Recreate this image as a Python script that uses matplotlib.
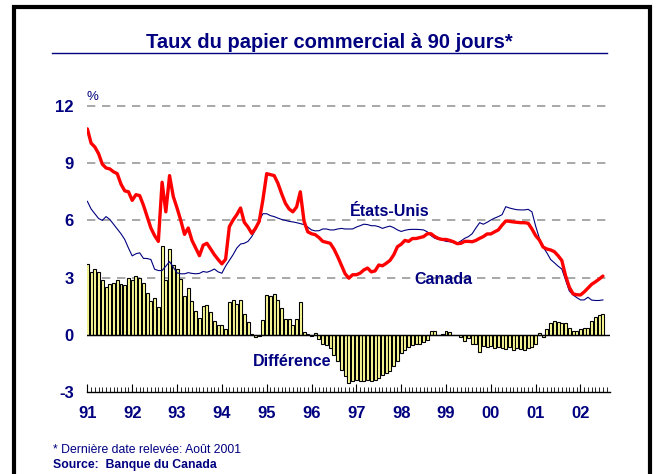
import matplotlib
matplotlib.use("Agg")
import matplotlib.pyplot as plt
import numpy as np
from matplotlib.lines import Line2D
from matplotlib.patches import Rectangle

plt.rcParams['font.family'] = ['Liberation Sans', 'DejaVu Sans']

# monthly data, Jan 1991 .. Jul 2002
canada = [
    10.8, 10.05, 9.85, 9.5, 8.95, 8.75, 8.7, 8.55, 8.45, 7.9, 7.55, 7.5,
    7.05, 7.35, 7.3, 6.8, 6.2, 5.6, 5.2, 4.9, 8.0, 6.45, 8.35, 7.25,
    6.65, 6.0, 5.27, 5.6, 4.95, 4.55, 4.15, 4.7, 4.8, 4.5, 4.2, 3.95,
    3.72, 3.96, 5.67, 6.02, 6.3, 6.65, 5.9, 5.65, 5.32, 5.58, 5.95, 7.1,
    8.45, 8.4, 8.35, 7.95, 7.4, 6.9, 6.6, 6.45, 6.7, 7.5, 5.95, 5.4,
    5.3, 5.25, 5.1, 4.9, 4.85, 4.8, 4.5, 4.1, 3.65, 3.2, 2.97, 3.15,
    3.15, 3.23, 3.4, 3.5, 3.3, 3.35, 3.66, 3.62, 3.75, 3.9, 4.19, 4.62,
    4.75, 4.95, 4.9, 5.05, 5.05, 5.1, 5.15, 5.3, 5.3, 5.15, 5.05, 5.0,
    5.0, 4.95, 4.88, 4.78, 4.8, 4.9, 4.9, 4.88, 4.95, 5.06, 5.15, 5.29,
    5.29, 5.4, 5.5, 5.75, 5.97, 5.95, 5.92, 5.9, 5.88, 5.88, 5.85, 5.55,
    5.2, 4.97, 4.6, 4.5, 4.45, 4.36, 4.15, 3.9, 3.1, 2.5, 2.15, 2.1,
    2.09, 2.25, 2.45, 2.65, 2.78, 2.92, 3.08,
]
etats_unis = [
    7.0, 6.6, 6.35, 6.1, 6.0, 6.2, 6.05, 5.8, 5.55, 5.3, 5.0, 4.55,
    4.14, 4.25, 4.3, 4.01, 4.0, 3.95, 3.44, 3.37, 3.37, 3.6, 3.84, 3.55,
    3.25, 3.2, 3.2, 3.26, 3.22, 3.2, 3.22, 3.32, 3.28, 3.35, 3.45, 3.3,
    3.23, 3.6, 3.9, 4.2, 4.55, 4.76, 4.8, 4.9, 5.15, 5.5, 6.0, 6.35,
    6.35, 6.25, 6.2, 6.12, 6.05, 6.0, 5.95, 5.92, 5.88, 5.83, 5.78, 5.65,
    5.5, 5.45, 5.46, 5.55, 5.55, 5.5, 5.5, 5.55, 5.58, 5.55, 5.55, 5.55,
    5.65, 5.72, 5.8, 5.78, 5.72, 5.72, 5.67, 5.58, 5.65, 5.7, 5.62, 5.5,
    5.42, 5.48, 5.52, 5.53, 5.53, 5.52, 5.5, 5.4, 5.2, 5.06, 5.0, 4.97,
    4.9, 4.88, 4.83, 4.8, 4.92, 5.06, 5.15, 5.3, 5.6, 5.88, 5.8, 5.9,
    6.02, 6.12, 6.2, 6.3, 6.72, 6.65, 6.6, 6.56, 6.55, 6.55, 6.58, 6.45,
    5.7, 5.06, 4.6, 4.3, 3.95, 3.78, 3.6, 3.45, 2.88, 2.3, 2.09, 1.95,
    1.83, 1.83, 1.97, 1.82, 1.8, 1.8, 1.83,
]
difference = [
    3.72, 3.3, 3.44, 3.3, 2.9, 2.5, 2.67, 2.74, 2.88, 2.64, 2.6, 2.97,
    2.86, 3.09, 3.0, 2.74, 2.18, 1.76, 1.94, 1.45, 4.66, 2.9, 4.49, 3.66,
    3.44, 2.93, 2.02, 2.46, 1.75, 1.27, 0.89, 1.5, 1.54, 1.17, 0.72, 0.52,
    0.54, 0.31, 1.7, 1.8, 1.62, 1.85, 1.1, 0.68, 0.04, -0.13, -0.08, 0.8,
    2.1, 2.06, 2.16, 1.8, 1.42, 0.85, 0.85, 0.5, 0.85, 1.7, 0.15, 0.05,
    -0.05, 0.1, -0.2, -0.5, -0.55, -0.7, -1.05, -1.35, -1.83, -2.18, -2.55, -2.44,
    -2.36, -2.44, -2.4, -2.36, -2.44, -2.36, -2.27, -2.1, -2.0, -1.92, -1.66, -1.4,
    -0.96, -0.79, -0.66, -0.56, -0.49, -0.49, -0.38, -0.26, 0.18, 0.18, 0.0, 0.02,
    0.18, 0.15, 0.0, -0.03, -0.12, -0.3, -0.18, -0.48, -0.48, -0.88, -0.6, -0.65,
    -0.6, -0.7, -0.66, -0.7, -0.73, -0.66, -0.79, -0.7, -0.73, -0.79, -0.7, -0.66,
    -0.5, 0.1, -0.1, 0.3, 0.6, 0.75, 0.68, 0.62, 0.6, 0.38, 0.2, 0.2,
    0.3, 0.35, 0.38, 0.7, 0.92, 1.05, 1.1,
]
year_labels = ['91', '92', '93', '94', '95', '96', '97', '98', '99', '00', '01', '02']
y_ticks = [-3, 0, 3, 6, 9, 12]

NAVY = '#000080'

months = np.arange(len(canada))

fig = plt.figure(figsize=(6.59, 4.74), dpi=100)
ax = fig.add_axes([87 / 659, 1 - 392 / 474, 523 / 659, 286 / 474])

# bars first, lines above
ax.bar(months, difference, width=0.8, color='#FFFF99', edgecolor='black', linewidth=0.8, zorder=3)
ax.plot(months, etats_unis, color=NAVY, linewidth=0.8, zorder=4)
ax.plot(months, canada, color='#FF0000', linewidth=2.4, zorder=5, solid_capstyle='round')

# dashed grid at 3..12, solid zero line
for v in [3, 6, 9, 12]:
    ax.axhline(v, color='#999999', linewidth=1.2, linestyle=(0, (5, 4)), zorder=1, clip_on=False)
ax.axhline(0, color='black', linewidth=1.0, zorder=3.5)

ax.set_xlim(-0.1, 139.9)
ax.set_ylim(-3, 12)

for s in ['top', 'right', 'left']:
    ax.spines[s].set_visible(False)
ax.spines['bottom'].set_linewidth(1.0)

ax.set_xticks(np.arange(0, 12 * len(year_labels), 12))
ax.set_xticklabels(year_labels, fontsize=12, fontweight='bold', color=NAVY)
ax.set_xticks(np.arange(0, 140), minor=True)
ax.tick_params(axis='x', which='major', direction='in', length=6, width=0.8, pad=10)
ax.tick_params(axis='x', which='minor', direction='in', length=3.5, width=0.6)

ax.set_yticks(y_ticks)
ax.set_yticklabels([str(v) for v in y_ticks], fontsize=12, fontweight='bold', color=NAVY)
ax.tick_params(axis='y', length=0, pad=9.5)

ax.text(1.3, 12.45, '%', color=NAVY, fontsize=9.5, ha='center', va='center', clip_on=False)
ax.text(81, 6.45, 'États-Unis', color=NAVY, fontsize=11.5, fontweight='bold', ha='center', va='center')
ax.text(95.3, 2.9, 'Canada', color=NAVY, fontsize=11.5, fontweight='bold', ha='center', va='center')
ax.text(54.9, -1.4, 'Différence', color=NAVY, fontsize=11.5, fontweight='bold', ha='center', va='center')

# title with underline
fig.text(0.5, 1 - 42 / 474, 'Taux du papier commercial à 90 jours*', color=NAVY,
         fontsize=14.5, fontweight='bold', ha='center', va='center')
fig.add_artist(Line2D([52 / 659, 607 / 659], [1 - 53 / 474, 1 - 53 / 474], color=NAVY, linewidth=1.0))

fig.text(53 / 659, 1 - 450 / 474, '* Dernière date relevée: Août 2001', color=NAVY,
         fontsize=8.8, ha='left', va='center')
fig.text(53 / 659, 1 - 465 / 474, 'Source:  Banque du Canada', color=NAVY,
         fontsize=8.8, fontweight='bold', ha='left', va='center')

# thick frame around the slide
fig.add_artist(Rectangle((14 / 659, -0.2), 636 / 659, 1.2 - 7 / 474, fill=False,
                         edgecolor='black', linewidth=3, transform=fig.transFigure))

fig.savefig('out.png', dpi=100)
